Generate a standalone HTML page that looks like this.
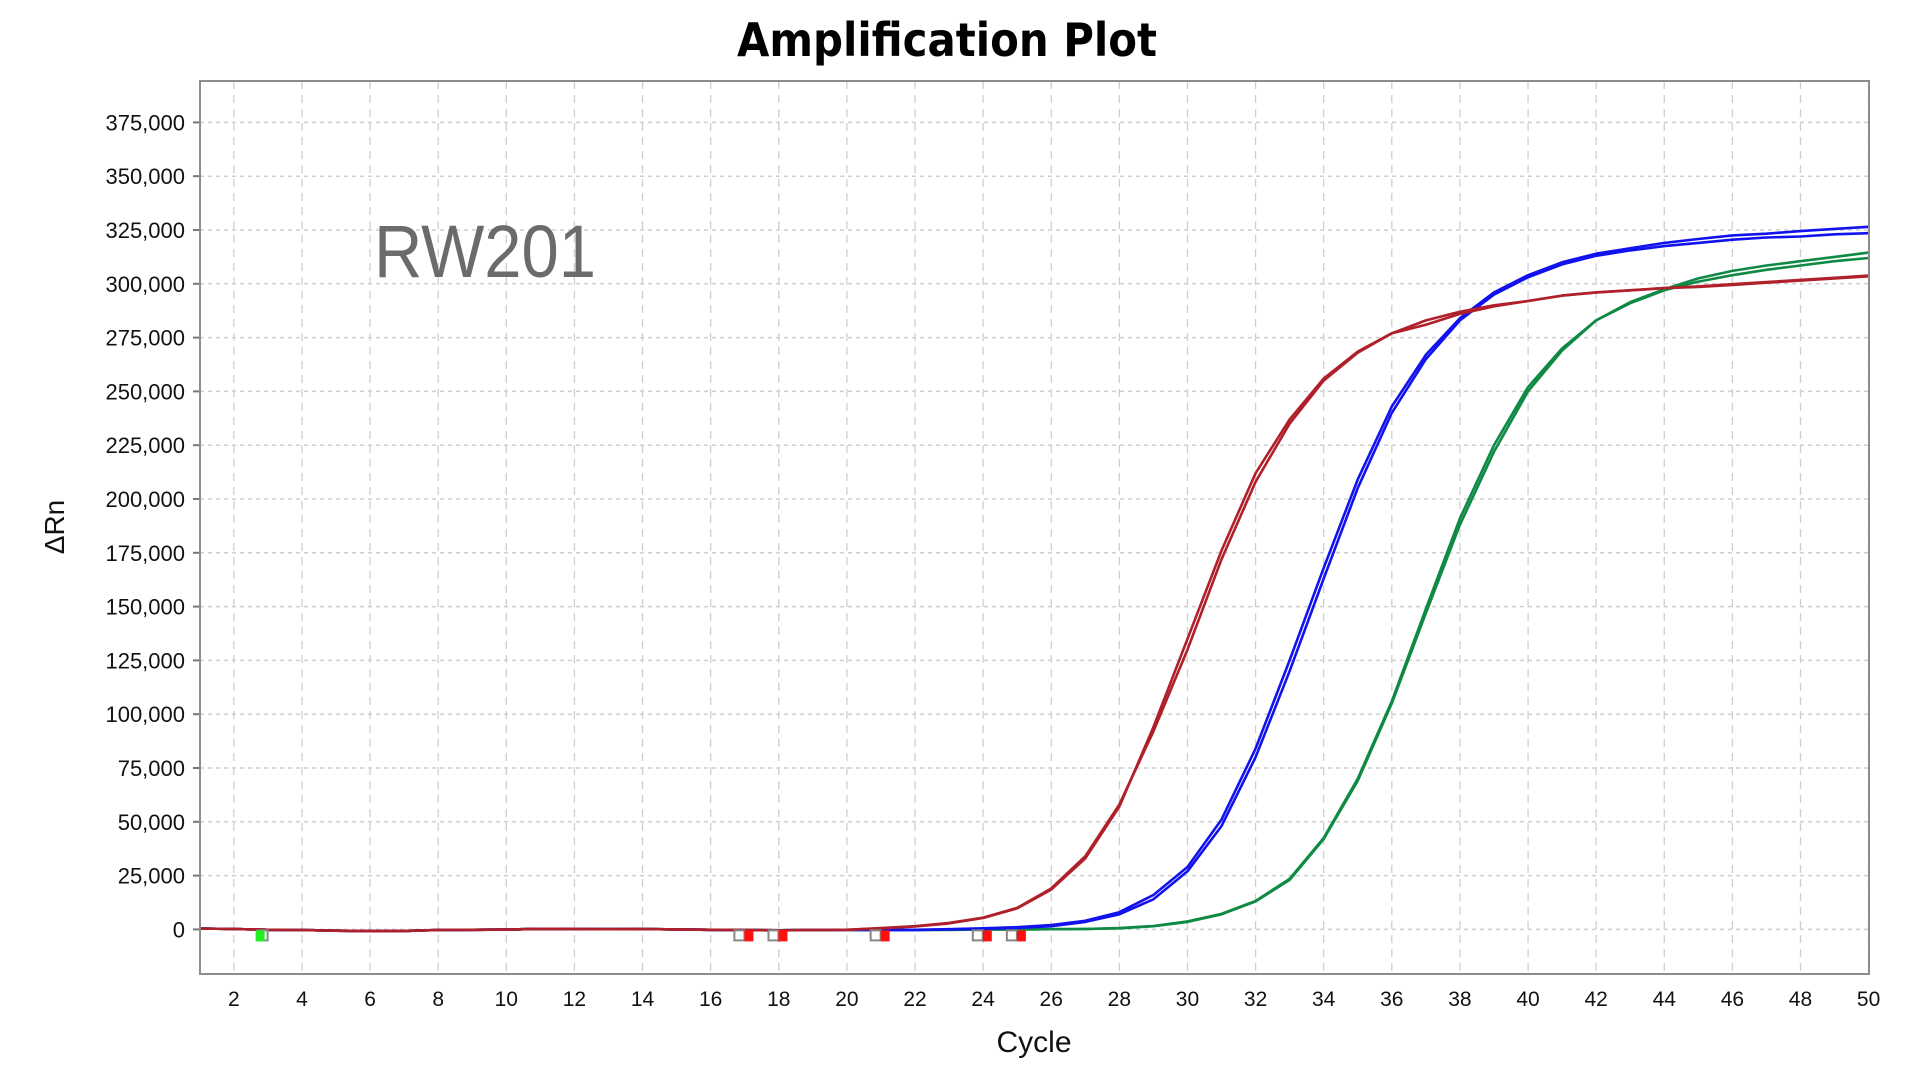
<!DOCTYPE html>
<html><head><meta charset="utf-8"><style>
html,body{margin:0;padding:0;background:#fff;}
svg{display:block;font-family:"Liberation Sans",sans-serif;}
</style></head><body>
<svg id="chart" width="1920" height="1076" viewBox="0 0 1920 1076">
<text x="947" y="56" text-anchor="middle" font-size="46" font-weight="bold" font-family="DejaVu Sans Condensed, Liberation Sans, sans-serif" fill="#000" textLength="420" lengthAdjust="spacingAndGlyphs">Amplification Plot</text>
<g id="grid"></g>
<g id="yaxis"></g>
<g id="xaxis"></g>
<text x="374" y="277" font-size="74" fill="#6b6b6b" textLength="222" lengthAdjust="spacingAndGlyphs">RW201</text>
<g id="series"></g>
<g id="markers"></g>
<rect x="200" y="81" width="1669" height="893" fill="none" stroke="#8c8c8c" stroke-width="2"/>
<text x="1034" y="1052" text-anchor="middle" font-size="30" fill="#111">Cycle</text>
<text transform="translate(64,527) rotate(-90)" text-anchor="middle" font-size="28" fill="#111">ΔRn</text>
</svg>
<script>
const cycles=[];for(let c=1;c<=50;c++)cycles.push(c);
const xTicks=[2,4,6,8,10,12,14,16,18,20,22,24,26,28,30,32,34,36,38,40,42,44,46,48,50];
const yTicks=[0,25000,50000,75000,100000,125000,150000,175000,200000,225000,250000,275000,300000,325000,350000,375000];
const base=[0.4,0.2,-0.2,-0.3,-0.6,-0.8,-0.7,-0.3,-0.2,-0.1,0.3,0.2,0.1,0.2,0,-0.2,-0.3,-0.4,-0.3,-0.2];
const red1=base.concat([0.6,1.5,3,5.5,10,19,34,58,92,130,172,208,235,255,268,277,283,287,290,292,294.5,296,297,298,298.5,299.5,300.5,301.5,302.5,303.5]);
const red2=base.concat([0.5,1.4,2.8,5.3,9.8,18.5,33,57,94,135,176,212,237,256,268.5,277,281,286,289.5,292,294.5,296,297,298,298.8,299.8,300.8,301.8,302.8,303.8]);
const blue1=base.concat([-0.3,-0.3,0,0.3,0.7,1.5,3.5,7,14,27,48,80,120,163,205,240,265,283,295,303,309,313,315.5,317.5,319,320.5,321.5,322,323,323.5]);
const blue2=base.concat([-0.3,-0.2,0.1,0.5,1,2,4,8,16,29,51,84,125,168,209,243,267,284,296,304,310,314,316.5,319,320.8,322.5,323.3,324.5,325.5,326.5]);
const green1=base.concat([-0.3,-0.3,-0.2,-0.1,0,0.1,0.2,0.5,1.5,3.5,7,13,23,42,69,105,147,188,222,250,269,283,291,297,301,304,306.5,308.5,310.5,312]);
const green2=base.concat([-0.3,-0.3,-0.2,-0.1,0,0.1,0.2,0.6,1.6,3.7,7.2,13.2,23.5,42.5,70,106,149,191,225,252,270,283,291.5,297.5,302.5,306,308.5,310.5,312.5,314.5]);
const markerCycles=[3.05,17.05,18.05,21.05,24.05,25.05];
const markerKinds=["green","red","red","red","red","red"];
const X0=199.8,X1=1868.6,Y0=929.4,Y375=122.4;
const xs=c=>X0+(c-1)*(X1-X0)/49;
const ys=v=>Y0-(v/375000)*(Y0-Y375);
const NS="http://www.w3.org/2000/svg";
function mk(tag,parent){const e=document.createElementNS(NS,tag);document.getElementById(parent).appendChild(e);return e;}
xTicks.forEach(t=>{
 const l=mk('line','grid');
 
 
 l.setAttribute('x1',xs(t));l.setAttribute('x2',xs(t));l.setAttribute('y1',81);l.setAttribute('y2',974);
 l.setAttribute('stroke','#cfcfcf');l.setAttribute('stroke-dasharray','8,6');l.setAttribute('stroke-width','1.3');
 const tx=mk('text','xaxis');
 
 
 tx.setAttribute('x',xs(t));tx.setAttribute('y',1006);tx.setAttribute('text-anchor','middle');tx.setAttribute('font-size','21');tx.setAttribute('fill','#111');
 tx.textContent=t;
});
yTicks.forEach(t=>{
 const l=mk('line','grid');
 
 
 l.setAttribute('x1',200);l.setAttribute('x2',1869);l.setAttribute('y1',ys(t));l.setAttribute('y2',ys(t));
 l.setAttribute('stroke','#cfcfcf');l.setAttribute('stroke-dasharray','4,4');l.setAttribute('stroke-width','1.5');
 const k=mk('line','yaxis');
 
 
 k.setAttribute('x1',193);k.setAttribute('x2',200);k.setAttribute('y1',ys(t));k.setAttribute('y2',ys(t));k.setAttribute('stroke','#777');k.setAttribute('stroke-width','2');
 const tx=mk('text','yaxis');
 
 
 tx.setAttribute('x',185);tx.setAttribute('y',ys(t)+8);tx.setAttribute('text-anchor','end');tx.setAttribute('font-size','22');tx.setAttribute('fill','#111');
 tx.textContent=t.toLocaleString('en-US');
});
const series=[[green1,'#0f8a44','green-curve-1'],[green2,'#0f8a44','green-curve-2'],[blue1,'#1212ee','blue-curve-1'],[blue2,'#1212ee','blue-curve-2'],[red1,'#b0202a','red-curve-1'],[red2,'#b0202a','red-curve-2']];
series.forEach(s=>{
 const p=mk('polyline','series');
 
 
 p.setAttribute('points',s[0].map((v,i)=>xs(cycles[i]).toFixed(1)+','+ys(v*1000).toFixed(1)).join(' '));
 p.setAttribute('fill','none');p.setAttribute('stroke',s[1]);p.setAttribute('stroke-width','2.6');p.setAttribute('stroke-linejoin','round');
});
markerCycles.forEach((c,i)=>{
 const x=xs(c);
 const g=mk('rect','markers');
 
 
 g.setAttribute('x',x-12);g.setAttribute('y',ys(0)+1);g.setAttribute('width',10);g.setAttribute('height',10);
 g.setAttribute('fill','#fff');g.setAttribute('stroke','#888');g.setAttribute('stroke-width','2');
 const r=mk('rect','markers');
 
 
 r.setAttribute('x',markerKinds[i]==='green'?x-14:x-2);r.setAttribute('y',ys(0)+1);r.setAttribute('width',9);r.setAttribute('height',11);
 r.setAttribute('fill',markerKinds[i]==='green'?'#22ee22':'#ff1010');
});
</script>
</body></html>
